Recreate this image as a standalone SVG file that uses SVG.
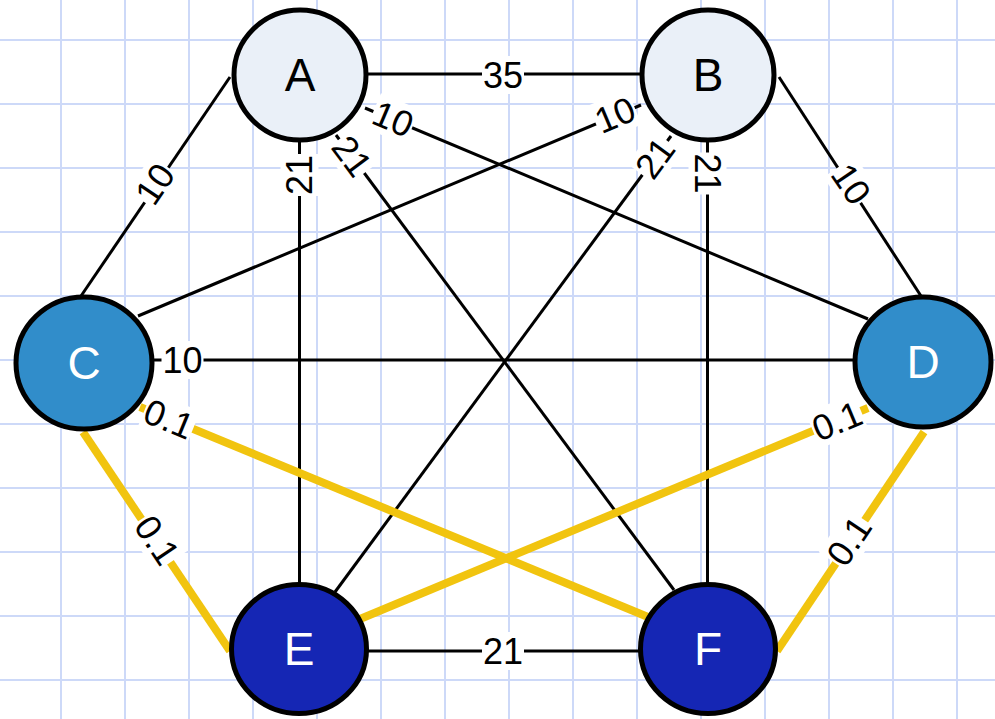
<svg xmlns="http://www.w3.org/2000/svg" width="995" height="719" viewBox="0 0 995 719">
<defs>
<pattern id="grid" patternUnits="userSpaceOnUse" x="29" y="8" width="64" height="64">
<path d="M32 0V64M0 32H64" stroke="#CDD9F8" stroke-width="2" fill="none"/>
</pattern>
<style>
.e{stroke:#000;stroke-width:3;fill:none}
.y{stroke:#F1C40F;stroke-width:8;fill:none}
.lb rect{fill:#fff}
.lb text{font-family:"Liberation Sans",Arial,sans-serif;font-size:36px;fill:#000;text-anchor:middle;dominant-baseline:central}
.n ellipse{stroke:#000;stroke-width:5}
.n text{font-family:"Liberation Sans",Arial,sans-serif;font-size:46px;text-anchor:middle;dominant-baseline:central}
.light ellipse{fill:#EAF0F8}
.light text{fill:#000}
.mid ellipse{fill:#318DCA}
.mid text{fill:#fff}
.dark ellipse{fill:#1526B4}
.dark text{fill:#fff}
</style>
</defs>
<rect width="995" height="719" fill="#fff"/>
<rect width="995" height="719" fill="url(#grid)"/>
<g id="connectors">
<line class="e" x1="366" y1="74" x2="642" y2="74"/>
<line class="e" x1="366" y1="651" x2="642" y2="651"/>
<line class="e" x1="230" y1="77" x2="81" y2="296"/>
<line class="e" x1="779" y1="77" x2="921" y2="296"/>
<line class="e" x1="365" y1="108" x2="868" y2="319"/>
<line class="e" x1="641" y1="105" x2="138" y2="316"/>
<line class="e" x1="152" y1="360" x2="856" y2="360"/>
<line class="e" x1="299.5" y1="140" x2="299.5" y2="585"/>
<line class="e" x1="707.5" y1="140" x2="707.5" y2="585"/>
<line class="e" x1="336" y1="135" x2="674" y2="590"/>
<line class="e" x1="671" y1="136" x2="335" y2="592"/>
<line class="y" x1="83" y1="432" x2="230" y2="651"/>
<line class="y" x1="924" y1="432" x2="777" y2="651"/>
<line class="y" x1="140" y1="407" x2="648" y2="617"/>
<line class="y" x1="868" y1="408" x2="360" y2="619"/>
<g class="lb" transform="translate(503,75)"><rect x="-21" y="-19" width="42" height="38"/><text>35</text></g>
<g class="lb" transform="translate(503,651)"><rect x="-21" y="-19" width="42" height="38"/><text>21</text></g>
<g class="lb" transform="translate(155,184) rotate(-55.8)"><rect x="-21" y="-19" width="42" height="38"/><text>10</text></g>
<g class="lb" transform="translate(851,184) rotate(55.8)"><rect x="-21" y="-19" width="42" height="38"/><text>10</text></g>
<g class="lb" transform="translate(393,119) rotate(22.8)"><rect x="-21" y="-19" width="42" height="38"/><text>10</text></g>
<g class="lb" transform="translate(615,115) rotate(-22.8)"><rect x="-21" y="-19" width="42" height="38"/><text>10</text></g>
<g class="lb" transform="translate(182.5,360)"><rect x="-21" y="-19" width="42" height="38"/><text>10</text></g>
<g class="lb" transform="translate(299.5,175) rotate(-90)"><rect x="-21" y="-19" width="42" height="38"/><text>21</text></g>
<g class="lb" transform="translate(707.5,173.5) rotate(90)"><rect x="-21" y="-19" width="42" height="38"/><text>21</text></g>
<g class="lb" transform="translate(352,156) rotate(53.4)"><rect x="-21" y="-19" width="42" height="38"/><text>21</text></g>
<g class="lb" transform="translate(655,158) rotate(-53.6)"><rect x="-21" y="-19" width="42" height="38"/><text>21</text></g>
<g class="lb" transform="translate(157,540) rotate(56.1)"><rect x="-26" y="-19" width="52" height="38"/><text>0.1</text></g>
<g class="lb" transform="translate(849,541) rotate(-56.1)"><rect x="-26" y="-19" width="52" height="38"/><text>0.1</text></g>
<g class="lb" transform="translate(169,419) rotate(22.4)"><rect x="-26" y="-19" width="52" height="38"/><text>0.1</text></g>
<g class="lb" transform="translate(837,421) rotate(-22.5)"><rect x="-26" y="-19" width="52" height="38"/><text>0.1</text></g>
</g>
<g id="node-A" class="n light"><ellipse cx="300" cy="75" rx="66" ry="65"/><text x="300" y="75">A</text></g>
<g id="node-B" class="n light"><ellipse cx="708" cy="75" rx="66" ry="65"/><text x="708" y="75">B</text></g>
<g id="node-C" class="n mid"><ellipse cx="84" cy="363" rx="68" ry="66"/><text x="84" y="363">C</text></g>
<g id="node-D" class="n mid"><ellipse cx="923" cy="362" rx="68" ry="65"/><text x="923" y="362">D</text></g>
<g id="node-E" class="n dark"><ellipse cx="299" cy="649" rx="67.5" ry="64.5"/><text x="299" y="649">E</text></g>
<g id="node-F" class="n dark"><ellipse cx="708" cy="649" rx="67.5" ry="64.5"/><text x="708" y="649">F</text></g>
</svg>
